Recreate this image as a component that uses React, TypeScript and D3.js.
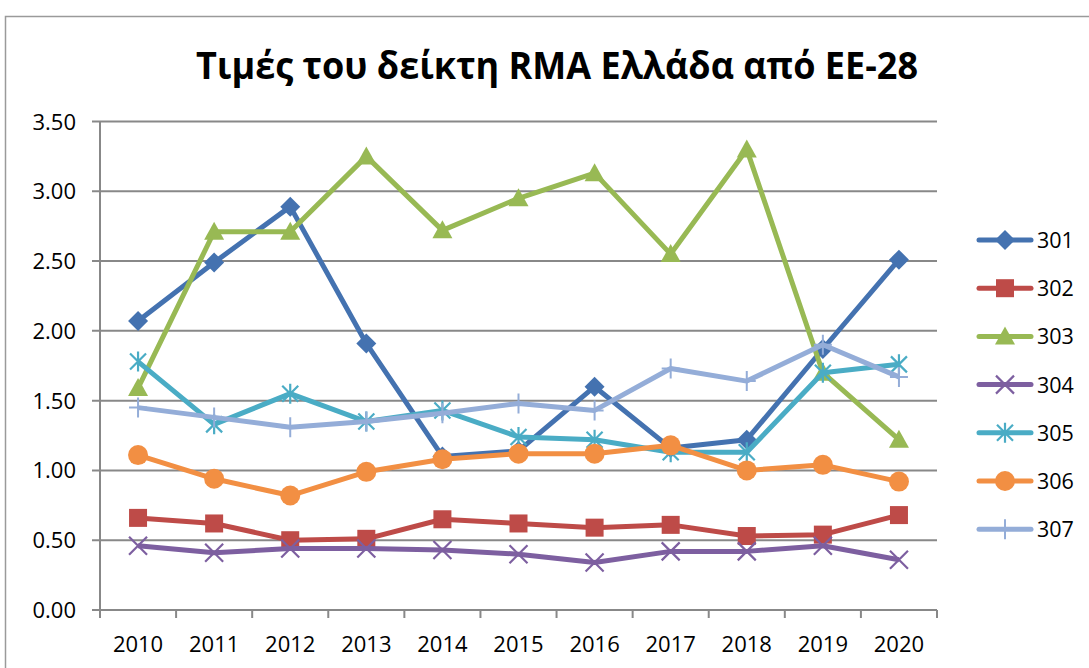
import React from "react";
import * as d3 from "d3";

const years = ["2010","2011","2012","2013","2014","2015","2016","2017","2018","2019","2020"];
const yTicks = [0, 0.5, 1, 1.5, 2, 2.5, 3, 3.5];
const seriesNames = ["301","302","303","304","305","306","307"];
const s301 = [2.07, 2.49, 2.89, 1.91, 1.10, 1.14, 1.60, 1.16, 1.22, 1.87, 2.51];
const s302 = [0.66, 0.62, 0.50, 0.51, 0.65, 0.62, 0.59, 0.61, 0.53, 0.54, 0.68];
const s303 = [1.59, 2.71, 2.71, 3.25, 2.72, 2.95, 3.13, 2.55, 3.30, 1.70, 1.22];
const s304 = [0.46, 0.41, 0.44, 0.44, 0.43, 0.40, 0.34, 0.42, 0.42, 0.46, 0.36];
const s305 = [1.78, 1.33, 1.55, 1.35, 1.43, 1.24, 1.22, 1.13, 1.13, 1.70, 1.76];
const s306 = [1.11, 0.94, 0.82, 0.99, 1.08, 1.12, 1.12, 1.18, 1.00, 1.04, 0.92];
const s307 = [1.45, 1.38, 1.31, 1.35, 1.41, 1.48, 1.43, 1.73, 1.64, 1.90, 1.67];
const seriesValues = [s301, s302, s303, s304, s305, s306, s307];
const colors = ["#4472B0", "#BE4B48", "#98B954", "#7D5FA0", "#4AACC5", "#F28F43", "#94ADD8"];
const markers = ["diamond", "square", "triangle", "x", "asterisk", "circle", "plus"];

const FONT = "'Open Sans', 'Noto Sans', sans-serif";

function Marker({ type, x, y, color }: { type: string; x: number; y: number; color: string }) {
  switch (type) {
    case "diamond":
      return <path d={`M${x},${y - 10}L${x + 10},${y}L${x},${y + 10}L${x - 10},${y}Z`} fill={color} />;
    case "square":
      return <rect x={x - 9} y={y - 9} width={18} height={18} fill={color} />;
    case "triangle":
      return <path d={`M${x},${y - 10}L${x + 10},${y + 8}L${x - 10},${y + 8}Z`} fill={color} />;
    case "circle":
      return <circle cx={x} cy={y} r={10} fill={color} />;
    case "x":
      return (
        <path d={`M${x - 9},${y - 9}L${x + 9},${y + 9}M${x - 9},${y + 9}L${x + 9},${y - 9}`} stroke={color} strokeWidth={2.2} fill="none" />
      );
    case "asterisk":
      return (
        <path
          d={`M${x - 8},${y - 8}L${x + 8},${y + 8}M${x - 8},${y + 8}L${x + 8},${y - 8}M${x},${y - 10}L${x},${y + 10}`}
          stroke={color}
          strokeWidth={2.2}
          fill="none"
        />
      );
    case "plus":
      return (
        <path d={`M${x - 9},${y}L${x + 9},${y}M${x},${y - 10}L${x},${y + 10}`} stroke={color} strokeWidth={2} fill="none" />
      );
    default:
      return null;
  }
}

export default function App() {
  const W = 1089, H = 668;
  const left = 100, right = 937, top = 121.5, bottom = 610;
  const x = d3.scaleBand<string>().domain(years).range([left, right]);
  const y = d3.scaleLinear().domain([0, 3.5]).range([bottom, top]);
  const line = d3
    .line<number>()
    .x((_, i) => (x(years[i]) as number) + x.bandwidth() / 2)
    .y((d) => y(d));
  const tickXs = years.map((yr) => x(yr) as number).concat([right]);

  return (
    <svg width={W} height={H} style={{ position: "absolute", left: 0, top: 0, background: "#fff" }}>
      <rect x={0} y={0} width={W} height={H} fill="#fff" />
      <rect x={5.5} y={16.5} width={W + 20} height={H + 20} fill="none" stroke="#9A9A9A" strokeWidth={1.5} />
      <text
        x={557}
        y={79}
        textAnchor="middle"
        fontFamily={FONT}
        fontWeight="bold"
        fontSize={37}
        textLength={722}
        lengthAdjust="spacingAndGlyphs"
        fill="#000"
      >
        Τιμές του δείκτη RMA Ελλάδα από ΕΕ-28
      </text>
      {yTicks.map((t) => (
        <g key={t}>
          <line x1={left - 8} x2={right} y1={y(t)} y2={y(t)} stroke="#888" strokeWidth={2} />
          <text x={76} y={y(t) + 8} textAnchor="end" fontFamily={FONT} fontSize={22} fill="#000">
            {t.toFixed(2)}
          </text>
        </g>
      ))}
      <line x1={left} x2={left} y1={top} y2={bottom} stroke="#888" strokeWidth={2} />
      {tickXs.map((tx, i) => (
        <line key={i} x1={tx} x2={tx} y1={bottom} y2={bottom + 8} stroke="#888" strokeWidth={2} />
      ))}
      {years.map((yr) => (
        <text
          key={yr}
          x={(x(yr) as number) + x.bandwidth() / 2}
          y={652}
          textAnchor="middle"
          fontFamily={FONT}
          fontSize={22}
          fill="#000"
        >
          {yr}
        </text>
      ))}
      {seriesValues.map((vals, si) => (
        <g key={seriesNames[si]}>
          <path d={line(vals) || ""} fill="none" stroke={colors[si]} strokeWidth={5} strokeLinejoin="round" />
          {vals.map((v, i) => (
            <Marker
              key={i}
              type={markers[si]}
              x={(x(years[i]) as number) + x.bandwidth() / 2}
              y={y(v)}
              color={colors[si]}
            />
          ))}
        </g>
      ))}
      {seriesNames.map((name, si) => {
        const ly = 240 + si * 48.2;
        return (
          <g key={name}>
            <line x1={979} x2={1031} y1={ly} y2={ly} stroke={colors[si]} strokeWidth={5} strokeLinecap="round" />
            <Marker type={markers[si]} x={1005} y={ly} color={colors[si]} />
            <text x={1037} y={ly + 8} fontFamily={FONT} fontSize={21.5} fill="#000">
              {name}
            </text>
          </g>
        );
      })}
    </svg>
  );
}
